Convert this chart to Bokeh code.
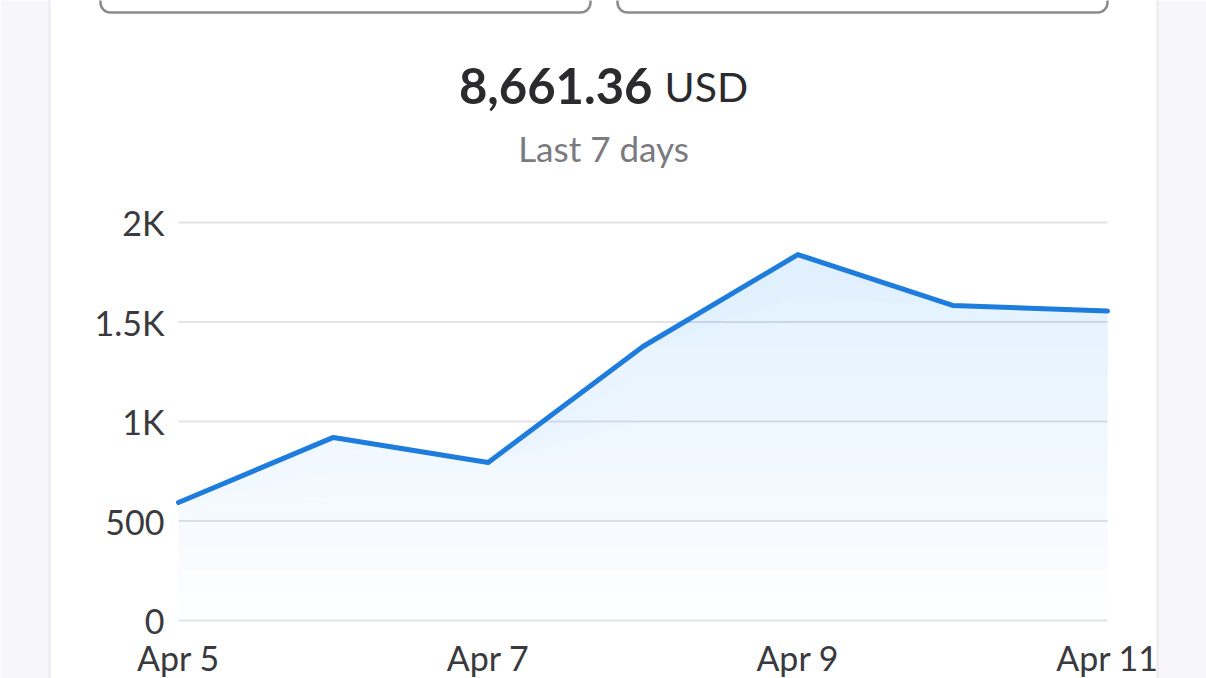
from bokeh.plotting import figure
from bokeh.models import Range1d, FixedTicker, Label, BoxAnnotation, ColumnDataSource, LinearAxis
from bokeh.embed import file_html
from bokeh.resources import INLINE

# ---- data ----
days = ["Apr 5", "Apr 6", "Apr 7", "Apr 8", "Apr 9", "Apr 10", "Apr 11"]
revenue = [593, 920, 794, 1377, 1839, 1583, 1555]
y_ticks = [0, 500, 1000, 1500, 2000]
y_tick_labels = ["0", "500", "1K", "1.5K", "2K"]
x_tick_idx = [0, 2, 4, 6]
total_text = "8,661.36"
currency = "USD"
subtitle = "Last 7 days"

FONT = "Lato"
LINE_COLOR = "#1e7ddc"
W, H = 1206, 678
# plot area in page pixels
PL, PR, PT, PB = 178, 1107, 222, 620

x = list(range(len(days)))
n = len(days) - 1
xs = (PR - PL) / n          # px per day
ys = (PB - PT) / 2000.0     # px per unit

p = figure(width=W, height=H, output_backend="svg", toolbar_location=None,
           x_range=Range1d(-PL / xs, n + (W - PR) / xs),
           y_range=Range1d(-(H - PB) / ys, 2000 + PT / ys))
p.title.visible = False
p.min_border = 0
p.min_border_left = 0
p.min_border_right = 0
p.min_border_top = 0
p.min_border_bottom = 0
p.background_fill_color = "white"
p.border_fill_color = "white"
p.outline_line_color = None
p.xgrid.visible = False
p.ygrid.visible = False

# horizontal grid lines across the plot area
p.segment(x0=[0] * len(y_ticks), x1=[n] * len(y_ticks), y0=y_ticks, y1=y_ticks,
          line_color="#e3e3e8", line_width=2)

# gradient-like fill under the line: stacked translucent layers
n_bands = 16
for k in range(n_bands):
    thr = 2000 * k / n_bands
    lower = [min(v, thr) for v in revenue]
    src = ColumnDataSource(dict(x=x, y1=lower, y2=revenue))
    p.varea(x="x", y1="y1", y2="y2", source=src, fill_color=LINE_COLOR, fill_alpha=0.009)

p.line(x, revenue, line_color=LINE_COLOR, line_width=5, line_join="round", line_cap="round")


def style_axis(ax):
    ax.axis_line_color = None
    ax.major_tick_line_color = None
    ax.minor_tick_line_color = None
    ax.major_tick_out = 0
    ax.major_tick_in = 0
    ax.major_label_text_font = FONT
    ax.major_label_text_font_size = "34px"
    ax.major_label_text_color = "#3a3a3e"


# axes, pinned to the plot-area edges
p.yaxis.fixed_location = 0
p.yaxis.ticker = FixedTicker(ticks=y_ticks)
p.yaxis.major_label_overrides = {t: l for t, l in zip(y_ticks, y_tick_labels)}
style_axis(p.yaxis[0])
p.yaxis.major_label_standoff = 14

# x axis: inner ticks centred, first label left-aligned, last label right-aligned
inner = x_tick_idx[1:-1]
p.xaxis.fixed_location = 0
p.xaxis.ticker = FixedTicker(ticks=inner)
p.xaxis.major_label_overrides = {i: days[i] for i in inner}
style_axis(p.xaxis[0])
p.xaxis.major_label_standoff = 16
for idx, align in [(x_tick_idx[0], "left"), (x_tick_idx[-1], "right")]:
    ax = LinearAxis(fixed_location=0, ticker=FixedTicker(ticks=[idx]),
                    major_label_overrides={idx: days[idx]})
    style_axis(ax)
    ax.major_label_standoff = 16
    ax.major_label_text_align = align
    p.add_layout(ax, "below")

# page decoration (screen units: the frame is the whole canvas)
bg = "#f7f6f9"
for l, r in [(-10, 49), (1157, W + 10)]:
    p.add_layout(BoxAnnotation(left=l, right=r, bottom=-10, top=H + 10,
                               left_units="screen", right_units="screen",
                               bottom_units="screen", top_units="screen",
                               fill_color=bg, fill_alpha=1,
                               line_color="#ebeaee", line_alpha=1, line_width=2))
for l, r in [(100, 590), (617, 1107)]:
    p.add_layout(BoxAnnotation(left=l, right=r, bottom=H - 12, top=H + 40,
                               left_units="screen", right_units="screen",
                               bottom_units="screen", top_units="screen",
                               fill_color="white", fill_alpha=1,
                               line_color="#8c8c90", line_alpha=1,
                               line_width=2.5, border_radius=10))

# header texts
p.add_layout(Label(x=652, y=H - 85, x_units="screen", y_units="screen", text=total_text,
                   text_font=FONT, text_font_size="49px", text_font_style="bold",
                   text_color="#2b2b2e", text_align="right", text_baseline="alphabetic"))
p.add_layout(Label(x=664, y=H - 86, x_units="screen", y_units="screen", text=currency,
                   text_font=FONT, text_font_size="41px",
                   text_color="#2b2b2e", text_align="left", text_baseline="alphabetic"))
p.add_layout(Label(x=603, y=H - 147, x_units="screen", y_units="screen", text=subtitle,
                   text_font=FONT, text_font_size="35px",
                   text_color="#7a7a80", text_align="center", text_baseline="alphabetic"))

open("out.html", "w").write(file_html(p, INLINE))
